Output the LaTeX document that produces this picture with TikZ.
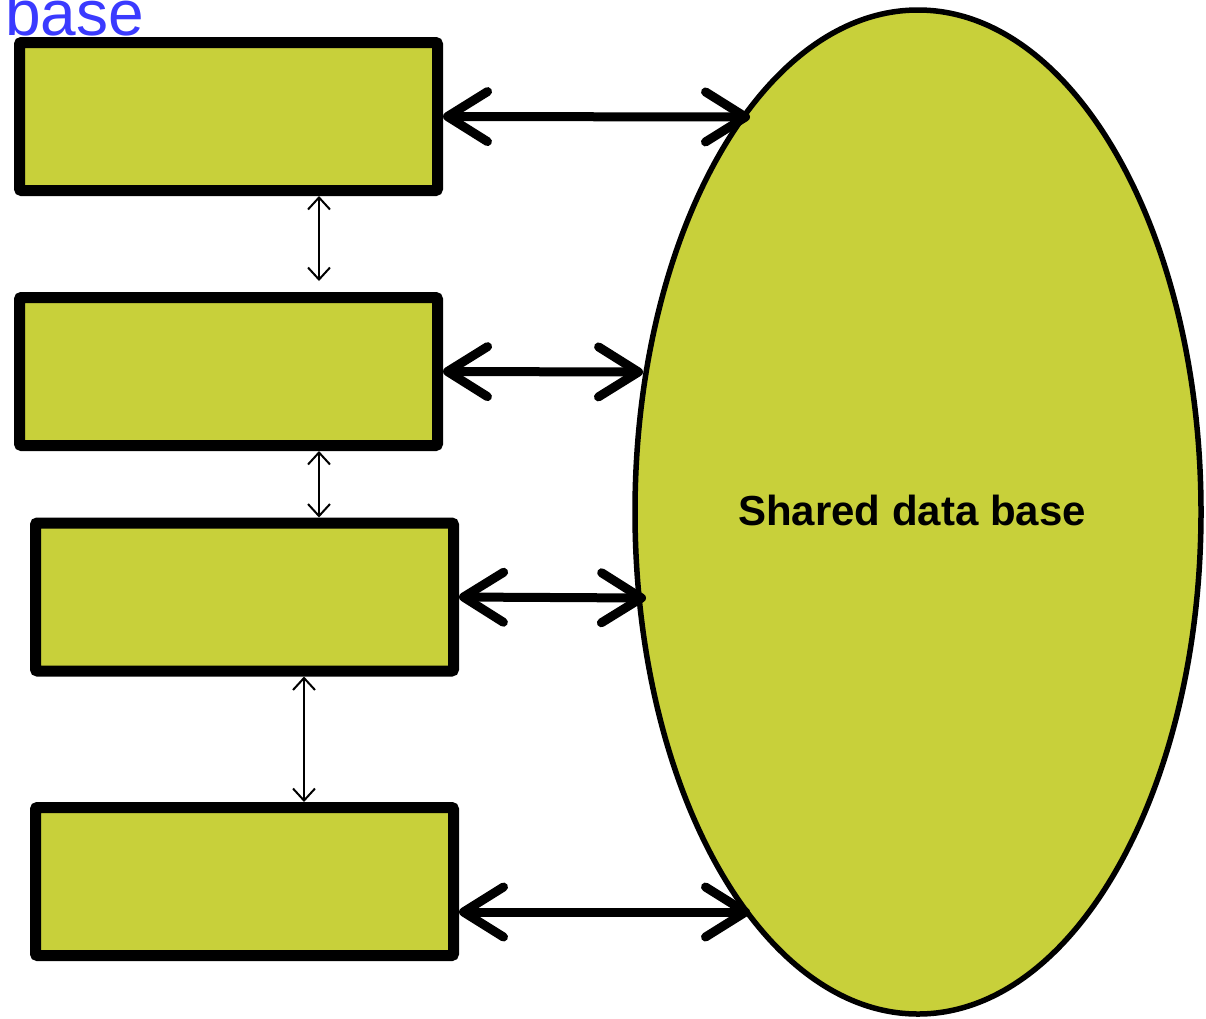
\documentclass[tikz,border=0pt]{standalone}
\usepackage{fontspec}
\setmainfont{Liberation Sans}
\usetikzlibrary{shapes.geometric,arrows.meta}
\definecolor{boxfill}{RGB}{200,208,58}
\definecolor{labelblue}{RGB}{58,58,255}
\begin{document}
\begin{tikzpicture}[x=1pt,y=-1pt,
  procbox/.style={draw=black,fill=boxfill,line width=11pt,minimum width=418pt,minimum height=148pt,inner sep=0pt,rounded corners=2pt},
  bigarrow/.style={line width=9pt,{Straight Barb[round,length=40pt,width=50pt]}-{Straight Barb[round,length=40pt,width=50pt]}},
  thinarrow/.style={line width=2pt,{Straight Barb[length=12pt,width=22pt]}-{Straight Barb[length=12pt,width=22pt]}}]
\useasboundingbox (0,0) rectangle (1206,1018);
\node[draw=black,fill=boxfill,line width=5.5pt,ellipse,minimum width=566pt,minimum height=1004pt,inner sep=0pt] (db) at (918,512) {};
\node[font=\bfseries\fontsize{42}{48}\selectfont,anchor=center] (dbt) at (912,510) {Shared data base};
\node[procbox] (b1) at (228.5,116.5) {};
\node[procbox] (b2) at (228.5,371.5) {};
\node[procbox] (b3) at (244.5,597) {};
\node[procbox] (b4) at (244.5,881.5) {};
\node[anchor=base west,inner sep=0pt,text=labelblue,font=\fontsize{64}{70}\selectfont] (lbl) at (5,35) {base};
\coordinate (e1) at (750,117);
\coordinate (e2) at (643,372);
\coordinate (e3) at (646,598);
\coordinate (e4) at (750,912);
\draw[bigarrow] (b1.east) -- (e1);
\draw[bigarrow] (b2.east) -- (e2);
\draw[bigarrow] (b3.east) -- (e3);
\draw[bigarrow] (b4.east |- e4) -- (e4);
\draw[thinarrow] (319,0 |- b1.south) -- (319,281);
\draw[thinarrow] (319,0 |- b2.south) -- (319,0 |- b3.north);
\draw[thinarrow] (304,0 |- b3.south) -- (304,0 |- b4.north);
\end{tikzpicture}
\end{document}
